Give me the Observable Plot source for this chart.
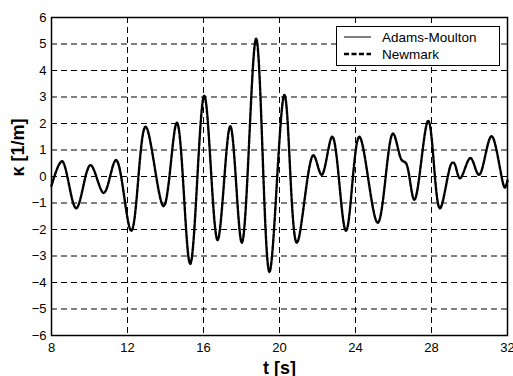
<!DOCTYPE html>
<html>
<head>
<meta charset="utf-8">
<script src="https://cdn.jsdelivr.net/npm/d3@7"></script>
<script src="https://cdn.jsdelivr.net/npm/@observablehq/plot@0.6"></script>
<style>
  html, body { margin: 0; padding: 0; background: #fff; }
  #wrap { position: relative; width: 513px; height: 376px; overflow: hidden; font-family: "Liberation Sans", Arial, sans-serif; }
  #legend { position: absolute; left: 336px; top: 26px; width: 162px; height: 38px; background: #fff; border: 1px solid #000; }
  #legend svg { position: absolute; left: 0; top: 0; }
</style>
</head>
<body>
<div id="wrap"></div>
<script>
// time samples (s)
const times = [8.0, 8.55, 9.3, 10.05, 10.75, 11.4, 12.2, 12.95, 13.9, 14.6,
  15.3, 16.04, 16.74, 17.41, 18.02, 18.77, 19.47, 20.26, 20.91, 21.78,
  22.22, 22.78, 23.5, 24.2, 25.17, 25.97, 26.43, 26.66, 27.1, 27.83,
  28.44, 29.06, 29.18, 29.5, 30.05, 30.5, 31.16, 31.86, 32.0];
// curvature (1/m), Adams-Moulton solution
const adamsMoulton = [-0.35, 0.58, -1.2, 0.43, -0.62, 0.62, -2.05, 1.88, -1.12, 2.03,
  -3.3, 3.05, -2.4, 1.9, -2.5, 5.2, -3.6, 3.08, -2.5, 0.8,
  0.06, 1.5, -2.05, 1.5, -1.75, 1.62, 0.62, 0.5, -0.88, 2.1,
  -1.2, 0.5, 0.52, -0.07, 0.7, 0.06, 1.52, -0.42, -0.15];
// curvature (1/m), Newmark solution (coincides with Adams-Moulton)
const newmark = [-0.35, 0.58, -1.2, 0.43, -0.62, 0.62, -2.05, 1.88, -1.12, 2.03,
  -3.3, 3.05, -2.4, 1.9, -2.5, 5.2, -3.6, 3.08, -2.5, 0.8,
  0.06, 1.5, -2.05, 1.5, -1.75, 1.62, 0.62, 0.5, -0.88, 2.1,
  -1.2, 0.5, 0.52, -0.07, 0.7, 0.06, 1.52, -0.42, -0.15];
const xTicks = [8, 12, 16, 20, 24, 28, 32];
const yTicks = [-6, -5, -4, -3, -2, -1, 0, 1, 2, 3, 4, 5, 6];
const seriesNames = ["Adams-Moulton", "Newmark"];

const am = times.map((t, i) => ({t, k: adamsMoulton[i]}));
const nm = times.map((t, i) => ({t, k: newmark[i]}));

const plot = Plot.plot({
  width: 513,
  height: 376,
  marginLeft: 51,
  marginRight: 6,
  marginTop: 17,
  marginBottom: 41,
  style: {fontFamily: "'Liberation Sans', Arial, sans-serif", fontSize: "13px", color: "#000", background: "#fff"},
  x: {domain: [8, 32]},
  y: {domain: [-6, 6]},
  marks: [
    Plot.ruleX(xTicks.slice(1, -1), {stroke: "#000", strokeWidth: 1, strokeDasharray: "6,4"}),
    Plot.ruleY(yTicks.slice(1, -1), {stroke: "#000", strokeWidth: 1, strokeDasharray: "6,4"}),
    Plot.axisX({ticks: xTicks, tickSize: 0, tickPadding: 7, label: null, fontSize: 13}),
    Plot.axisY({ticks: yTicks, tickSize: 0, tickPadding: 5, label: null, fontSize: 13}),
    Plot.line(am, {x: "t", y: "k", curve: "catmull-rom", stroke: "#000", strokeWidth: 1}),
    Plot.line(nm, {x: "t", y: "k", curve: "catmull-rom", stroke: "#000", strokeWidth: 2.4, strokeDasharray: "4,1.5"}),
    Plot.frame({stroke: "#000", strokeWidth: 1.5}),
    Plot.text(["t [s]"], {frameAnchor: "bottom", dy: 38, fontSize: 18, fontWeight: "bold", fill: "#000"}),
    Plot.text(["κ [1/m]"], {frameAnchor: "left", dx: -33, rotate: -90, fontSize: 18, fontWeight: "bold", fill: "#000"})
  ]
});

const wrap = document.getElementById("wrap");
wrap.appendChild(plot);

// legend inside the plot area
const leg = document.createElement("div");
leg.id = "legend";
const ns = "http://www.w3.org/2000/svg";
const ls = document.createElementNS(ns, "svg");
ls.setAttribute("width", 162);
ls.setAttribute("height", 38);
seriesNames.forEach((name, i) => {
  const y = 10 + i * 17;
  const l = document.createElementNS(ns, "line");
  l.setAttribute("x1", 7); l.setAttribute("x2", 34);
  l.setAttribute("y1", y); l.setAttribute("y2", y);
  l.setAttribute("stroke", "#000");
  if (i === 0) { l.setAttribute("stroke-width", 1); }
  else { l.setAttribute("stroke-width", 2.4); l.setAttribute("stroke-dasharray", "5,2.5"); }
  ls.appendChild(l);
  const tx = document.createElementNS(ns, "text");
  tx.setAttribute("x", 45); tx.setAttribute("y", y);
  tx.setAttribute("dy", "0.35em");
  tx.setAttribute("font-size", "13.5px");
  tx.setAttribute("font-family", "'Liberation Sans', Arial, sans-serif");
  tx.textContent = name;
  ls.appendChild(tx);
});
leg.appendChild(ls);
wrap.appendChild(leg);
</script>
</body>
</html>
